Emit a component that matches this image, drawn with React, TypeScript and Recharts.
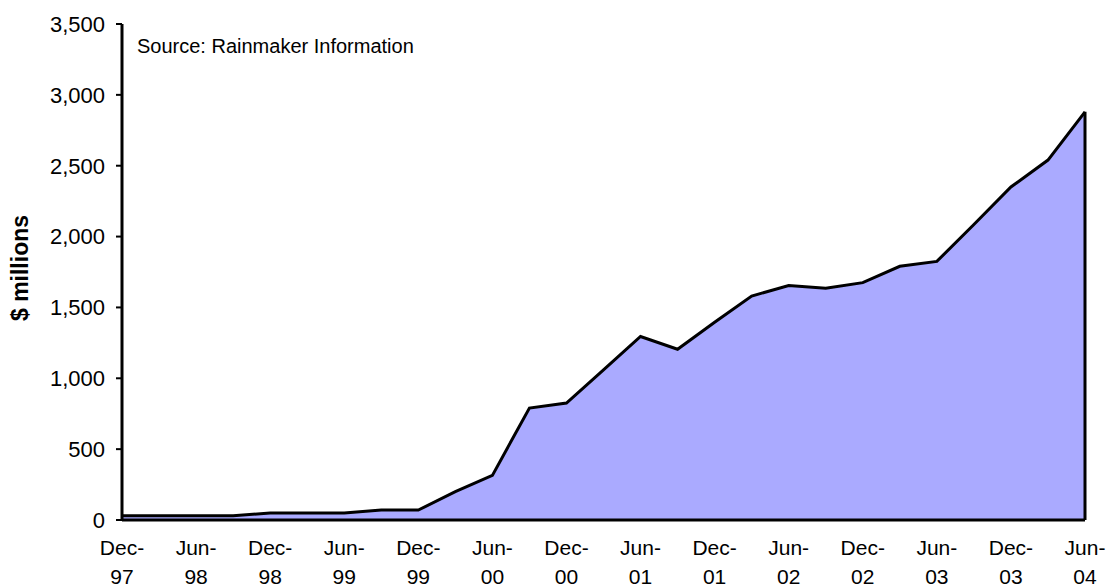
import React from 'react';
import { AreaChart, Area, XAxis, YAxis, ReferenceLine } from 'recharts';

// quarterly, Dec-97 .. Jun-04
const quarters = [
  'Dec-97', 'Mar-98', 'Jun-98', 'Sep-98', 'Dec-98', 'Mar-99', 'Jun-99', 'Sep-99', 'Dec-99',
  'Mar-00', 'Jun-00', 'Sep-00', 'Dec-00', 'Mar-01', 'Jun-01', 'Sep-01', 'Dec-01',
  'Mar-02', 'Jun-02', 'Sep-02', 'Dec-02', 'Mar-03', 'Jun-03', 'Sep-03', 'Dec-03',
  'Mar-04', 'Jun-04',
];
const assets = [
  30, 30, 30, 30, 50, 50, 50, 70, 70,
  200, 315, 790, 825, 1060, 1295, 1205, 1395,
  1580, 1655, 1635, 1675, 1790, 1825, 2085, 2350,
  2540, 2880,
];
const yTicks = [0, 500, 1000, 1500, 2000, 2500, 3000, 3500];

const data = quarters.map((q, i) => ({ q, v: assets[i] }));
const last = data[data.length - 1];

const FONT = '"Liberation Sans", Arial, sans-serif';

const DateTick = ({ x, y, payload }: any) => {
  const [mon, yr] = String(payload.value).split('-');
  return (
    <text x={x} y={y} textAnchor="middle" fontFamily={FONT} fontSize={21} fill="#000">
      <tspan x={x} dy={27}>{mon}-</tspan>
      <tspan x={x} dy={29}>{yr}</tspan>
    </text>
  );
};

const YLabel = () => (
  <text
    x={20}
    y={268}
    transform="rotate(-90 20 268)"
    textAnchor="middle"
    dominantBaseline="central"
    fontFamily={FONT}
    fontSize={23}
    fontWeight="bold"
    fill="#000"
  >
    $ millions
  </text>
);

const fmt = (v: number) => v.toLocaleString('en-US');

export default function App() {
  return (
    <div style={{ position: 'absolute', left: 0, top: 0, width: 1115, height: 587, background: '#fff' }}>
      <AreaChart
        width={1115}
        height={587}
        data={data}
        margin={{ top: 24, right: 30, bottom: 0, left: 0 }}
      >
        <XAxis
          dataKey="q"
          interval={1}
          tickLine={false}
          axisLine={{ stroke: '#000', strokeWidth: 3 }}
          tick={<DateTick />}
          height={67}
        />
        <YAxis
          width={122}
          domain={[0, 3500]}
          ticks={yTicks}
          tickFormatter={fmt}
          axisLine={{ stroke: '#000', strokeWidth: 3 }}
          tickLine={{ stroke: '#000', strokeWidth: 2 }}
          tickSize={6}
          tickMargin={11}
          tick={{ fill: '#000', fontSize: 22, fontFamily: FONT }}
          label={<YLabel />}
        />
        <Area
          type="linear"
          dataKey="v"
          stroke="#000"
          strokeWidth={3}
          fill="#AAAAFF"
          fillOpacity={1}
          dot={false}
          activeDot={false}
          isAnimationActive={false}
        />
        <ReferenceLine
          segment={[{ x: last.q, y: 0 }, { x: last.q, y: last.v }]}
          stroke="#000"
          strokeWidth={3}
        />
      </AreaChart>
      <div
        style={{
          position: 'absolute',
          left: 137,
          top: 35,
          fontFamily: FONT,
          fontSize: 20,
          color: '#000',
          whiteSpace: 'nowrap',
        }}
      >
        Source: Rainmaker Information
      </div>
    </div>
  );
}
